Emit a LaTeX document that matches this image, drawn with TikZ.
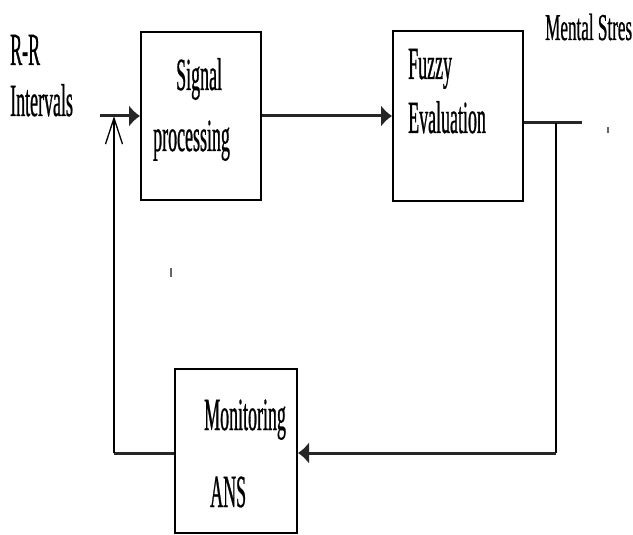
\documentclass[tikz,border=0pt]{standalone}
\usepackage{fontspec}
\usetikzlibrary{arrows.meta}
\newfontfamily\labf[FakeStretch=0.39,FakeBold=0.6]{Liberation Serif}
\newfontfamily\labw[FakeStretch=0.45,FakeBold=0.6]{Liberation Serif}
\tikzset{
  blk/.style={draw, line width=2pt, inner sep=0pt},
  lab/.style={anchor=base west, inner sep=0pt, font=\labf\fontsize{46}{52}\selectfont},
  thickline/.style={line width=3pt, draw=black!85},
  thinline/.style={line width=1.4pt},
  fillarrow/.style={-{Latex[length=11pt,width=22pt]}},
  openarrow/.style={-{Straight Barb[length=26pt,width=17pt,line width=1.3pt]}}
}
\begin{document}
\begin{tikzpicture}[x=1pt,y=-1pt]
\useasboundingbox (0,0) rectangle (633,535);
% boxes
\node[blk, minimum width=120pt, minimum height=168pt] (sig) at (201,116) {};
\node[blk, minimum width=130pt, minimum height=170pt] (fuz) at (458,116) {};
\node[blk, minimum width=122pt, minimum height=164pt] (mon) at (236,451) {};
% labels
\node[lab] (rr) at (10,65) {R-R};
\node[lab] (iv) at (10,116) {Intervals};
\node[lab] (s1) at (176,90) {Signal};
\node[lab] (s2) at (153,151) {processing};
\node[lab] (f1) at (408,79) {Fuzzy};
\node[lab] (f2) at (408,133) {Evaluation};
\node[anchor=base west, inner sep=0pt, font=\labw\fontsize{38}{44}\selectfont] (ms) at (545,40) {Mental Stres};
\node[lab] (m1) at (204,430) {Monitoring};
\node[lab] (m2) at (210,507) {ANS};
% coordinates
\coordinate (in) at (100,116);
\coordinate (out) at (582,123);
\coordinate (fbTop) at (556,123);
\coordinate (fbBot) at (556,453);
\coordinate (lb) at (114,453);
% connectors
\draw[thickline, fillarrow] (in) -- (sig.west);
\draw[thickline, fillarrow] (sig.east) -- (fuz.west);
\draw[thickline] (fuz.east |- out) -- (out);
\draw[thinline] (fbTop) -- (fbBot);
\draw[thickline, fillarrow] (fbBot) -- (mon.east |- fbBot);
\draw[thickline] (mon.west |- lb) -- (lb);
\draw[thinline, openarrow] (lb) -- (lb |- in);
% small marks
\fill[black!60] (170,268) rectangle (171.6,277);
\fill[black!60] (607,127) rectangle (608.6,133);
\end{tikzpicture}
\end{document}
